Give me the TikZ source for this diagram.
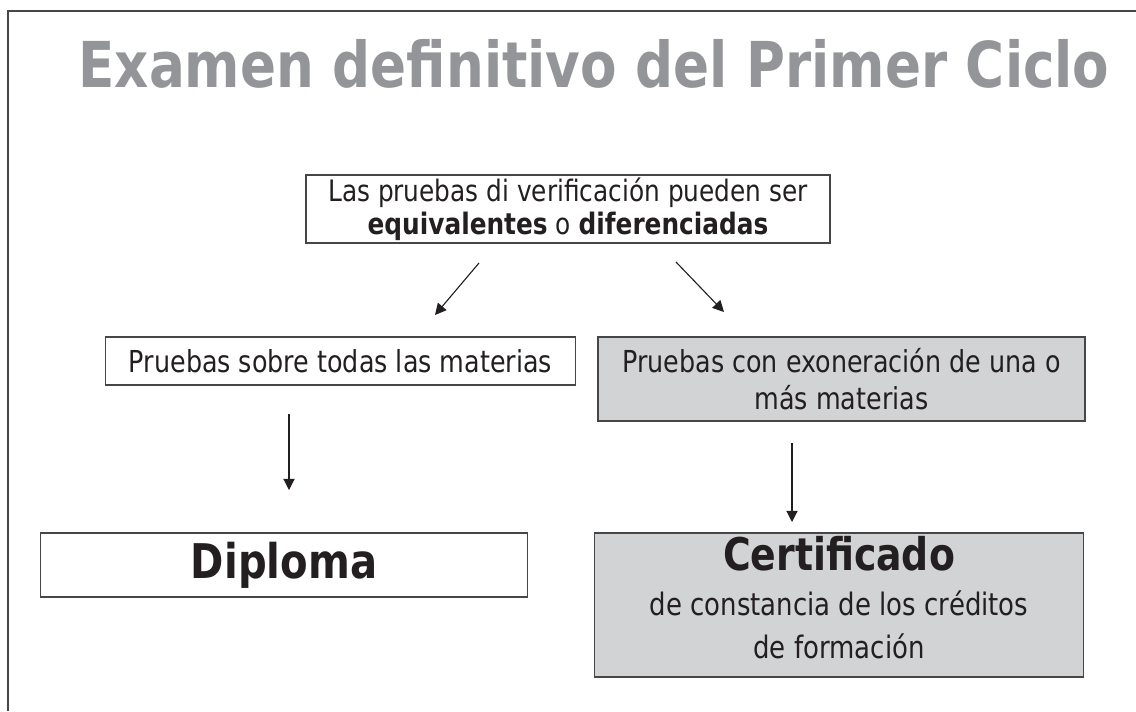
\documentclass[tikz,border=0pt]{standalone}
\usepackage{fontspec}
\setmainfont{DejaVu Sans}[FakeStretch=0.84]
\usetikzlibrary{shapes,arrows,arrows.meta,positioning}
\definecolor{titlegrey}{RGB}{147,149,152}
\definecolor{boxgrey}{RGB}{209,211,212}
\definecolor{inkdark}{RGB}{35,31,32}
\definecolor{edgegrey}{RGB}{70,70,70}
\tikzstyle{block} = [rectangle, draw=edgegrey, line width=0.9pt, text=inkdark,
    align=center, inner sep=0pt, font=\fontsize{21.5}{26}\selectfont]
\tikzstyle{shaded} = [block, fill=boxgrey]
\tikzstyle{line} = [draw, line width=0.8pt, inkdark, -{Triangle[length=8pt,width=8pt]}]

\begin{document}
\begin{tikzpicture}[x=0.025cm, y=-0.025cm]
\useasboundingbox (0,0) rectangle (1136,711);
\draw [edgegrey, line width=1pt] (8,711) -- (8,11) -- (1136,11);

\node [anchor=base, text=titlegrey, font=\fontsize{45}{52}\selectfont\bfseries] (title) at (594,87) {Examen definitivo del Primer Ciclo};

\node [block, minimum width=13.1cm, minimum height=1.7cm, font=\fontsize{21}{23.5}\selectfont] (init) at (568,209)
    {Las pruebas di verificación pueden ser\\ \textbf{equivalentes} o \textbf{diferenciadas}};
\node [block, minimum width=11.75cm, minimum height=1.2cm] (todas) at (340.5,361)
    {Pruebas sobre todas las materias};
\node [shaded, minimum width=12.175cm, minimum height=2.1cm] (exon) at (841.5,379)
    {Pruebas con exoneración de una o\\ más materias};
\node [block, minimum width=12.175cm, minimum height=1.6cm, font=\fontsize{34}{40}\selectfont\bfseries] (diploma) at (284,565)
    {Diploma};
\node [shaded, minimum width=12.225cm, minimum height=3.6cm, font=\fontsize{22}{31}\selectfont] (certif) at (839,605)
    {{\fontsize{32}{38}\selectfont\bfseries Certificado}\\[1pt] de constancia de los créditos\\ de formación\rule[-11pt]{0pt}{0pt}};

% arrow ends
\coordinate (ls) at (479,263);
\coordinate (le) at (435,315);
\coordinate (rs) at (676,262);
\coordinate (re) at (724,312);
\coordinate (ds) at (289,414);
\coordinate (de) at (289,490);
\coordinate (cs) at (792,443);
\coordinate (ce) at (792,522);

\path [line] (ls) -- (le);
\path [line] (rs) -- (re);
\path [line] (ds) -- (de);
\path [line] (cs) -- (ce);
\end{tikzpicture}
\end{document}
